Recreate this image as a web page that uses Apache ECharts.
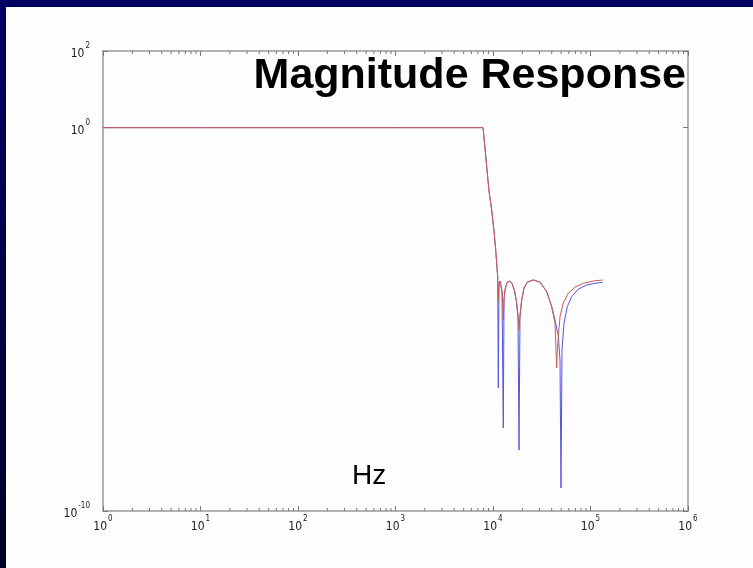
<!DOCTYPE html>
<html><head><meta charset="utf-8">
<script src="https://cdn.jsdelivr.net/npm/echarts@6/dist/echarts.min.js"></script>
<style>html,body{margin:0;padding:0;background:#fdfdfd}#c{width:753px;height:568px}</style>
</head><body><div id="c"></div>
<script>
// Frequencies (Hz) and magnitudes for the blue curve
const blueFreq = [1, 10, 100, 1000, 7900, 8180, 8620, 9100, 9700, 10240, 10660, 11175,
  11335, 11524, 11800, 12080, 12370, 12750, 12970, 13280, 13920, 14770, 15660, 16610, 17420, 18050,
  18480, 18920, 19700, 20800, 22480, 25900, 30340, 35550, 40000, 43240, 46740, 48670,
  49830, 51020, 53480, 57820, 64170, 74970, 91420, 111200, 133400];
const blueMag = [1, 1, 1, 1, 1, 0.40, 0.096, 0.0223, 0.00705, 0.00202, 6.44e-4, 1.27e-4,
  1.62e-7, 7.9e-5, 1.0e-4, 8.9e-5, 5.2e-5, 1.46e-8, 3.2e-5, 5.8e-5, 9.1e-5, 1.0e-4, 8.6e-5, 5.5e-5, 2.8e-5, 1.08e-5,
  3.9e-9, 1.17e-5, 3.2e-5, 6.5e-5, 9.3e-5, 1.06e-4, 9.3e-5, 5.3e-5, 2.14e-5, 9.6e-6, 3.7e-6, 8.7e-7,
  4.0e-10, 1.6e-6, 7.9e-6, 2.14e-5, 3.9e-5, 6.1e-5, 7.9e-5, 8.7e-5, 9.3e-5];

// Frequencies (Hz) and magnitudes for the red curve
const redFreq = [1, 10, 100, 1000, 7900, 8180, 8620, 9100, 9700, 10240, 10660, 11175,
  11335, 11524, 11800, 12080, 12370, 12750, 12970, 13280, 13920, 14770, 15660, 16610, 17420, 18050,
  18480, 18920, 19700, 20800, 22480, 25900, 30340, 35550, 40000, 43240, 45010, 45660,
  48670, 52600, 59200, 69340, 84370, 106800, 133400];
const redMag = [1, 1, 1, 1, 1, 0.40, 0.096, 0.0223, 0.00705, 0.00202, 6.44e-4, 1.27e-4,
  3.2e-5, 8.5e-5, 1.0e-4, 9.0e-5, 5.5e-5, 9.6e-6, 3.5e-5, 6.0e-5, 9.2e-5, 1.0e-4, 8.7e-5, 5.6e-5, 2.9e-5, 1.3e-5,
  5.3e-6, 1.3e-5, 3.3e-5, 6.6e-5, 9.4e-5, 1.07e-4, 9.4e-5, 5.3e-5, 2.1e-5, 7.9e-6, 5.4e-7, 1.6e-6,
  1.17e-5, 2.67e-5, 4.8e-5, 6.9e-5, 8.7e-5, 1.0e-4, 1.06e-4];

// Axis ticks
const xDecades = [1, 10, 100, 1000, 10000, 100000];
const minorMultipliers = [2, 3, 4, 5, 6, 7, 8, 9];
const xRange = [1, 1e6];
const yRange = [1e-10, 1e2];

const titleText = 'Magnitude Response';
const xName = 'Hz';

const minorTicks = [];
xDecades.forEach(d => minorMultipliers.forEach(m => minorTicks.push([d * m, 1])));

const pair = (xs, ys) => xs.map((x, i) => [x, ys[i]]);

const labelFmt = v => {
  const e = Math.round(Math.log10(v));
  return '{b|10}{s|' + e + '}';
};
const narrow = '"Liberation Sans Narrow", "DejaVu Sans Condensed", "Liberation Sans", sans-serif';
const richLbl = {
  b: { fontSize: 12, fontFamily: narrow, color: '#1a1a1a', lineHeight: 18, verticalAlign: 'bottom' },
  s: { fontSize: 8, fontFamily: narrow, color: '#1a1a1a', lineHeight: 18, verticalAlign: 'top', padding: [0, 0, 0, 1] }
};
const axisLineStyle = { color: '#999', width: 1.5 };
const tickStyle = { color: '#777', width: 1 };

const chart = echarts.init(document.getElementById('c'), null, { renderer: 'canvas' });
chart.setOption({
  backgroundColor: '#fdfdfd',
  animation: false,
  graphic: [
    { type: 'rect', left: 0, top: 0, shape: { width: 753, height: 7 }, style: { fill: '#000060' }, z: 100 },
    { type: 'rect', left: 0, top: 0, shape: { width: 6, height: 568 },
      style: { fill: new echarts.graphic.LinearGradient(0, 0, 0, 1, [{ offset: 0, color: '#000066' }, { offset: 1, color: '#000028' }]) }, z: 100 },
    { type: 'text', right: 67, top: 55, z: 50,
      style: { text: titleText, font: 'bold 43px "Liberation Sans", Arial, sans-serif', fill: '#000' } },
    { type: 'text', left: 352, top: 462, z: 50,
      style: { text: xName, font: '28px "Liberation Sans", Arial, sans-serif', fill: '#000' } }
  ],
  grid: { left: 103, right: 65, top: 51, bottom: 57 },
  xAxis: [
    { type: 'log', logBase: 10, min: xRange[0], max: xRange[1], splitNumber: 6,
      axisLine: { lineStyle: axisLineStyle }, axisTick: { inside: true, length: 5, lineStyle: tickStyle },
      splitLine: { show: false },
      axisLabel: { formatter: labelFmt, rich: richLbl, margin: 4 } },
    { type: 'log', logBase: 10, min: xRange[0], max: xRange[1], splitNumber: 6, position: 'top',
      axisLine: { lineStyle: axisLineStyle }, axisTick: { inside: true, length: 5, lineStyle: tickStyle },
      splitLine: { show: false }, axisLabel: { show: false } }
  ],
  yAxis: [
    { type: 'log', logBase: 10, min: yRange[0], max: yRange[1], splitNumber: 6,
      axisLine: { show: true, lineStyle: axisLineStyle }, axisTick: { show: true, inside: true, length: 5, lineStyle: tickStyle },
      splitLine: { show: false },
      axisLabel: { formatter: labelFmt, rich: richLbl, margin: 13 } },
    { type: 'log', logBase: 10, min: yRange[0], max: yRange[1], splitNumber: 6, position: 'right',
      axisLine: { show: true, lineStyle: axisLineStyle }, axisTick: { show: true, inside: true, length: 5, lineStyle: tickStyle },
      splitLine: { show: false }, axisLabel: { show: false } }
  ],
  series: [
    { type: 'custom', xAxisIndex: 0, yAxisIndex: 0, silent: true, data: minorTicks, clip: false,
      renderItem: (params, api) => {
        const x = api.coord([api.value(0), 1])[0];
        const cs = params.coordSys;
        const st = { stroke: '#777', lineWidth: 1 };
        return { type: 'group', children: [
          { type: 'line', shape: { x1: x, y1: cs.y + cs.height, x2: x, y2: cs.y + cs.height - 3 }, style: st },
          { type: 'line', shape: { x1: x, y1: cs.y, x2: x, y2: cs.y + 3 }, style: st }
        ] };
      } },
    { type: 'line', name: 'blue', data: pair(blueFreq, blueMag), showSymbol: false, symbol: 'none',
      lineStyle: { color: '#5555dd', width: 1 }, silent: true },
    { type: 'line', name: 'red', data: pair(redFreq, redMag), showSymbol: false, symbol: 'none',
      lineStyle: { color: '#d05a5a', width: 1 }, silent: true }
  ]
});
</script></body></html>
